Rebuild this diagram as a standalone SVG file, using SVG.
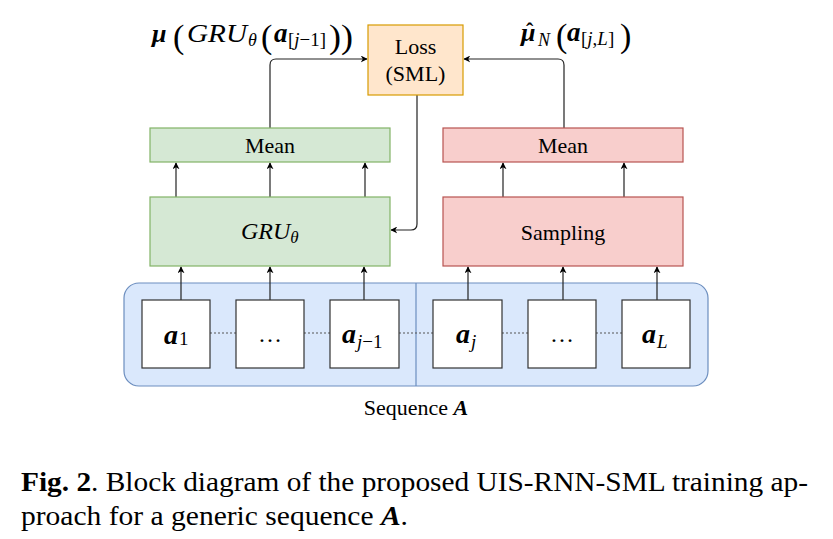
<svg xmlns="http://www.w3.org/2000/svg" width="833" height="539" viewBox="0 0 833 539" font-family="Liberation Serif, Times New Roman, serif">
<style>
text{font-family:'Liberation Serif','Times New Roman',serif;fill:#000}
.lbl{font-size:22px;text-anchor:middle}
.it{font-style:italic}
.bi{font-style:italic;font-weight:bold}
.b{font-weight:bold}
.edge{fill:none;stroke:#222;stroke-width:1.2}
.dot{fill:none;stroke:#555;stroke-width:1.2;stroke-dasharray:2,2}
.green{fill:#d5e8d4;stroke:#82b366;stroke-width:1.2}
.red{fill:#f8cecc;stroke:#b85450;stroke-width:1.2}
.orange{fill:#ffe6cc;stroke:#d79b00;stroke-width:1.2}
.blue{fill:#dae8fc;stroke:#6c8ebf;stroke-width:1.2}
.cell{fill:#fff;stroke:#333;stroke-width:1.2}
</style>
<defs>
<marker id="arr" viewBox="0 0 10 10" refX="9" refY="5" markerWidth="7" markerHeight="7" orient="auto" markerUnits="userSpaceOnUse">
<path d="M0,0 L10,5 L0,10 L3,5 Z" fill="#000"/>
</marker>
</defs>
<rect width="833" height="539" fill="#fff"/>

<g id="sequence">
<rect class="blue" x="124" y="283" width="584" height="103" rx="15"/>
<line x1="416" y1="283" x2="416" y2="386" stroke="#6c8ebf" stroke-width="1.2"/>
<text x="416" y="415" class="lbl">Sequence <tspan class="bi">A</tspan></text>
</g>

<g id="connectors">
<path class="edge" d="M270,128 L270,65 Q270,59 276,59 L367,59" marker-end="url(#arr)"/>
<path class="edge" d="M564,128 L564,65 Q564,59 558,59 L464,59" marker-end="url(#arr)"/>
<path class="edge" d="M417,95 L417,224 Q417,230 411,230 L391,230" marker-end="url(#arr)"/>
<path class="edge" d="M176,197 L176,163" marker-end="url(#arr)"/>
<path class="edge" d="M270,197 L270,163" marker-end="url(#arr)"/>
<path class="edge" d="M365,197 L365,163" marker-end="url(#arr)"/>
<path class="edge" d="M503,197 L503,163" marker-end="url(#arr)"/>
<path class="edge" d="M624,197 L624,163" marker-end="url(#arr)"/>
<path class="edge" d="M181,300 L181,267" marker-end="url(#arr)"/>
<path class="edge" d="M270,300 L270,267" marker-end="url(#arr)"/>
<path class="edge" d="M364,300 L364,267" marker-end="url(#arr)"/>
<path class="edge" d="M468,300 L468,267" marker-end="url(#arr)"/>
<path class="edge" d="M563,300 L563,267" marker-end="url(#arr)"/>
<path class="edge" d="M657,300 L657,267" marker-end="url(#arr)"/>
<path class="dot" d="M210,333 H236 M304,333 H330 M399,333 H433 M502,333 H528 M596,333 H622"/>
</g>

<g id="loss">
<rect class="orange" x="368" y="25" width="95" height="70"/>
<text x="415.5" y="54" class="lbl">Loss</text>
<text x="415.5" y="81" class="lbl">(SML)</text>
</g>

<g id="mean-left">
<rect class="green" x="150" y="128" width="240" height="34"/>
<text x="270" y="153" class="lbl" textLength="50" lengthAdjust="spacingAndGlyphs">Mean</text>
</g>
<g id="gru">
<rect class="green" x="150" y="197" width="240" height="69"/>
<text x="241" y="239" class="it" style="font-size:24px">GRU<tspan style="font-size:17px" dy="4">θ</tspan></text>
</g>
<g id="mean-right">
<rect class="red" x="443" y="128" width="240" height="34"/>
<text x="563" y="153" class="lbl" textLength="50" lengthAdjust="spacingAndGlyphs">Mean</text>
</g>
<g id="sampling">
<rect class="red" x="443" y="197" width="240" height="69"/>
<text x="563" y="240" class="lbl">Sampling</text>
</g>

<g id="a1">
<rect class="cell" x="142" y="300" width="68" height="68"/>
<text x="164" y="344" class="bi" style="font-size:28px">a</text>
<text x="179" y="345" style="font-size:19px">1</text>
</g>
<g id="a-dots1">
<rect class="cell" x="236" y="300" width="68" height="68"/>
<text x="270" y="342" class="lbl" style="font-size:24px">…</text>
</g>
<g id="a-jm1">
<rect class="cell" x="330" y="300" width="69" height="68"/>
<text x="342" y="343" class="bi" style="font-size:28px">a</text>
<text x="357" y="348" style="font-size:19px"><tspan class="it">j</tspan>−1</text>
</g>
<g id="a-j">
<rect class="cell" x="433" y="300" width="69" height="68"/>
<text x="456" y="343" class="bi" style="font-size:28px">a</text>
<text x="471" y="348" class="it" style="font-size:19px">j</text>
</g>
<g id="a-dots2">
<rect class="cell" x="528" y="300" width="68" height="68"/>
<text x="562" y="342" class="lbl" style="font-size:24px">…</text>
</g>
<g id="a-L">
<rect class="cell" x="622" y="300" width="68" height="68"/>
<text x="642" y="343" class="bi" style="font-size:28px">a</text>
<text x="657" y="348" class="it" style="font-size:19px">L</text>
</g>

<g id="label-left">
<text x="152" y="42" class="bi" style="font-size:26px">μ</text>
<text x="173" y="48" style="font-size:34px">(</text>
<text x="187" y="42" class="it" style="font-size:25px" textLength="60" lengthAdjust="spacingAndGlyphs">GRU</text>
<text x="248" y="46" class="it" style="font-size:18px">θ</text>
<text x="261" y="48" style="font-size:34px">(</text>
<text x="274" y="42" class="bi" style="font-size:27px">a</text>
<text x="288" y="46" style="font-size:19px" textLength="38" lengthAdjust="spacingAndGlyphs">[<tspan class="it">j</tspan>−1]</text>
<text x="329" y="48" style="font-size:34px" textLength="24" lengthAdjust="spacingAndGlyphs">))</text>
</g>
<g id="label-right">
<text x="521" y="41" class="bi" style="font-size:26px">μ<tspan x="526" y="38" class="b" style="font-size:22px;font-style:normal">ˆ</tspan><tspan x="538" y="46" class="it" style="font-size:18px;font-weight:normal">N</tspan><tspan x="556" y="47" style="font-size:34px;font-weight:normal;font-style:normal">(</tspan><tspan x="567" y="41" style="font-size:27px">a</tspan><tspan x="581" y="45" style="font-size:19px;font-weight:normal;font-style:normal">[<tspan class="it" style="font-weight:normal">j</tspan>,<tspan class="it" style="font-weight:normal">L</tspan>]</tspan><tspan x="620" y="47" style="font-size:34px;font-weight:normal;font-style:normal">)</tspan></text>
</g>

<g id="caption">
<text x="21" y="491" style="font-size:27px" textLength="787" lengthAdjust="spacingAndGlyphs"><tspan class="b">Fig. 2</tspan>. Block diagram of the proposed UIS-RNN-SML training ap-</text>
<text x="21" y="525" style="font-size:27px" textLength="387" lengthAdjust="spacingAndGlyphs">proach for a generic sequence <tspan class="bi">A</tspan>.</text>
</g>
</svg>
